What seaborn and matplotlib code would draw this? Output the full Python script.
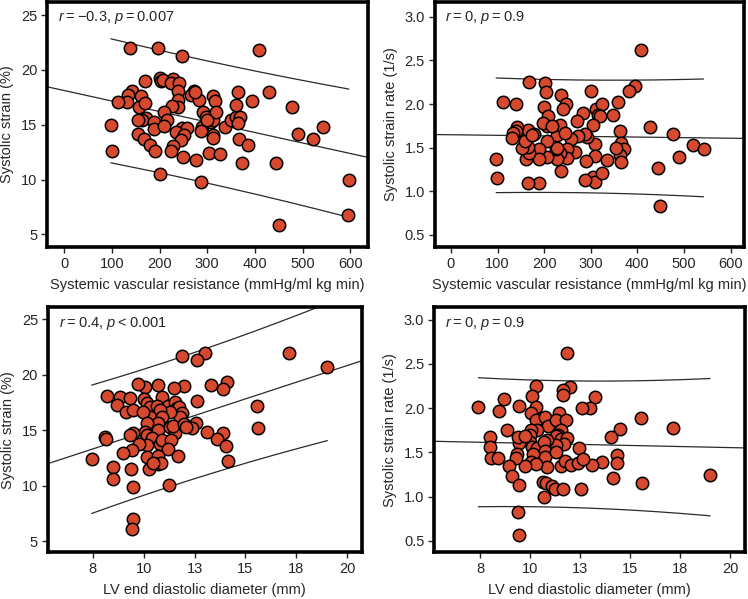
import matplotlib
matplotlib.use("Agg")
import matplotlib.pyplot as plt
import numpy as np
import pandas as pd
import seaborn as sns

# ---- data ----
# top-left: systemic vascular resistance vs systolic strain
svr_a = [139, 197, 247, 409, 200, 202, 207, 228, 225, 241,
         170, 238, 272, 265, 283, 238, 238, 226, 209, 143,
         134, 132, 112, 161, 157, 169, 171, 163, 154, 188,
         189, 216, 210, 154, 167, 179, 190, 98, 100, 200,
         248, 258, 234, 251, 245, 228, 225, 249, 276, 287,
         292, 297, 289, 287, 307, 312, 313, 316, 319, 312,
         312, 304, 326, 337, 349, 360, 369, 365, 360, 365,
         366, 372, 394, 385, 430, 478, 491, 521, 543, 444,
         451, 597, 594, 300, 274]
strain_a = [22.0, 22.0, 21.3, 21.8, 19.3, 19.0, 19.1, 19.2, 18.8, 18.8,
            19.0, 18.1, 18.1, 17.7, 17.3, 17.3, 16.6, 16.7, 16.2, 18.1,
            17.7, 17.1, 17.1, 17.6, 16.6, 17.0, 15.6, 15.4, 15.4, 15.3,
            14.6, 15.4, 14.9, 14.2, 13.7, 13.2, 12.6, 15.0, 12.6, 10.5,
            14.7, 14.7, 14.3, 14.1, 13.6, 13.1, 12.6, 12.1, 11.8, 9.8,
            16.2, 15.7, 14.8, 14.4, 15.3, 15.4, 17.6, 17.2, 16.2, 14.1,
            13.8, 12.4, 12.3, 14.8, 15.4, 15.7, 15.7, 15.2, 16.8, 18.0,
            13.7, 11.5, 17.2, 13.2, 18.0, 16.6, 14.2, 13.7, 14.8, 11.5,
            5.9, 10.0, 6.8, 15.45, 18.0]

# top-right: systemic vascular resistance vs systolic strain rate
svr_b = [407, 395, 383, 167, 201, 205, 300, 237, 247, 241,
         112, 139, 199, 209, 283, 270, 312, 325, 315, 319,
         348, 359, 428, 477, 520, 542, 489, 445, 448, 363,
         366, 371, 363, 366, 355, 305, 310, 310, 305, 310,
         325, 335, 288, 290, 293, 288, 273, 258, 266, 249,
         249, 235, 237, 227, 225, 227, 227, 234, 244, 207,
         197, 217, 207, 207, 190, 189, 190, 165, 162, 168,
         165, 152, 158, 165, 178, 142, 139, 134, 130, 97,
         99, 174]
rate_b = [2.62, 2.21, 2.15, 2.25, 2.24, 2.14, 2.15, 2.10, 2.00, 1.94,
          2.02, 2.00, 1.97, 1.86, 1.90, 1.81, 1.94, 2.00, 1.88, 1.86,
          1.88, 2.02, 1.74, 1.66, 1.53, 1.49, 1.39, 1.27, 0.83, 1.69,
          1.55, 1.48, 1.42, 1.33, 1.50, 1.76, 1.54, 1.40, 1.16, 1.11,
          1.21, 1.36, 1.13, 1.35, 1.62, 1.66, 1.63, 1.60, 1.45, 1.48,
          1.38, 1.44, 1.23, 1.37, 1.48, 1.50, 1.65, 1.76, 1.67, 1.75,
          1.78, 1.75, 1.58, 1.39, 1.48, 1.37, 1.09, 1.09, 1.37, 1.44,
          1.51, 1.50, 1.58, 1.70, 1.66, 1.74, 1.69, 1.67, 1.61, 1.37,
          1.15, 1.64]

# bottom-left: LV end diastolic diameter vs systolic strain
lvedd_c = [17.15, 19.02, 11.87, 13.01, 12.62, 13.29, 14.08, 13.91, 15.57, 15.61,
           13.91, 13.62, 14.05, 14.16, 12.61, 12.58, 12.36, 13.1, 12.0, 11.48,
           10.92, 10.71, 10.07, 9.74, 8.19, 8.84, 9.33, 8.71, 9.14, 9.48,
           10.02, 10.15, 10.31, 10.64, 11.21, 11.54, 11.62, 11.75, 11.87, 11.8,
           11.3, 10.8, 10.31, 9.99, 10.89, 10.72, 10.15, 10.07, 10.15, 10.72,
           11.3, 11.54, 11.46, 12.0, 12.06, 10.39, 10.8, 10.89, 11.34, 11.21,
           10.18, 9.78, 9.41, 9.0, 9.46, 9.33, 8.12, 8.17, 7.45, 8.51,
           8.48, 9.37, 9.47, 9.48, 9.43, 10.15, 10.25, 10.72, 10.72, 10.86,
           11.26, 11.67, 10.45]
strain_c = [21.94, 20.68, 21.7, 21.94, 21.3, 19.08, 19.32, 18.75, 17.19, 15.21,
            14.73, 14.19, 13.59, 12.27, 17.67, 15.63, 15.18, 14.88, 18.99, 18.84,
            18.03, 19.05, 18.93, 19.14, 18.09, 17.97, 17.94, 17.28, 16.68, 16.83,
            17.79, 17.43, 17.13, 17.19, 17.19, 17.58, 16.98, 17.07, 16.53, 16.23,
            16.68, 16.83, 16.17, 16.68, 16.23, 15.63, 15.63, 14.88, 14.58, 15.03,
            15.33, 14.79, 15.39, 15.57, 15.27, 14.28, 13.77, 14.13, 14.13, 13.29,
            13.68, 13.77, 13.23, 12.99, 14.79, 14.61, 14.43, 14.19, 12.39, 11.73,
            10.62, 11.52, 9.87, 6.98, 6.08, 12.63, 11.52, 12.69, 11.94, 12.09,
            10.05, 12.69, 12.09]

# bottom-right: LV end diastolic diameter vs systolic strain rate
lvedd_d = [11.87, 19.0, 17.15, 15.55, 15.6, 14.5, 14.05, 14.33, 14.37, 14.13,
           13.62, 13.1, 13.27, 13.0, 12.58, 12.0, 11.65, 11.67, 10.28, 10.12,
           10.32, 10.03, 10.28, 10.73, 10.9, 11.47, 11.32, 11.78, 11.53, 11.42,
           11.32, 11.57, 11.83, 11.7, 11.28, 10.87, 10.37, 10.03, 9.98, 10.0,
           10.08, 10.37, 10.7, 10.73, 10.75, 10.83, 10.17, 10.03, 10.32, 9.75,
           9.43, 9.38, 9.33, 9.28, 8.83, 8.95, 9.08, 9.43, 9.45, 8.7,
           8.45, 7.42, 7.98, 8.02, 8.05, 8.42, 9.42, 9.43, 10.63, 10.78,
           10.7, 11.08, 11.25, 11.67, 12.55, 11.53, 11.73, 12.03, 12.45, 12.4,
           12.65, 11.28, 9.73]
rate_d = [2.62, 1.24, 1.77, 1.89, 1.15, 1.76, 1.67, 1.47, 1.38, 1.21,
          1.39, 1.36, 2.13, 2.00, 2.00, 2.24, 2.21, 2.15, 2.25, 2.14,
          2.01, 1.94, 1.86, 1.90, 1.80, 1.94, 1.87, 1.86, 1.75, 1.70,
          1.69, 1.65, 1.66, 1.59, 1.58, 1.64, 1.75, 1.75, 1.70, 1.62,
          1.56, 1.55, 1.62, 1.51, 1.45, 1.33, 1.48, 1.39, 1.37, 1.35,
          1.60, 1.67, 1.48, 1.44, 1.75, 1.35, 1.23, 1.13, 2.02, 2.10,
          1.97, 2.01, 1.67, 1.56, 1.44, 1.44, 0.83, 0.56, 1.16, 1.15,
          1.00, 1.12, 1.09, 1.09, 1.08, 1.35, 1.40, 1.36, 1.55, 1.38,
          1.43, 1.50, 1.68]

ts = "\u2009"  # thin space around = and <
stats_text = [f"$r${ts}={ts}\u22120.3, $p${ts}={ts}0.007",
              f"$r${ts}={ts}0, $p${ts}={ts}0.9",
              f"$r${ts}={ts}0.4, $p${ts}<{ts}0.001",
              f"$r${ts}={ts}0, $p${ts}={ts}0.9"]

svr_ticks = [0, 100, 200, 300, 400, 500, 600]
lv_ticks = [7.5, 10, 12.5, 15, 17.5, 20]
lv_ticklabels = ["8", "10", "13", "15", "18", "20"]
strain_ticks = [5, 10, 15, 20, 25]
rate_ticks = [0.5, 1.0, 1.5, 2.0, 2.5, 3.0]

svr_label = "Systemic vascular resistance (mmHg/ml kg min)"
lv_label = "LV end diastolic diameter (mm)"
strain_label = "Systolic strain (%)"
rate_label = "Systolic strain rate (1/s)"

sns.set_style("white")
plt.rcParams["font.family"] = ["Liberation Sans", "DejaVu Sans"]
plt.rcParams["mathtext.fontset"] = "custom"
plt.rcParams["mathtext.rm"] = "Liberation Sans"
plt.rcParams["mathtext.it"] = "Liberation Sans:italic"
plt.rcParams["font.size"] = 10.5

fig = plt.figure(figsize=(7.48, 5.99), dpi=100)

# [left, bottom, width, height] in figure fractions
boxes = [
    [0.0628, 0.5876, 0.4292, 0.409],
    [0.5811, 0.5876, 0.4136, 0.409],
    [0.0638, 0.078, 0.4198, 0.409],
    [0.5802, 0.078, 0.4154, 0.409],
]

panels = [
    (svr_a, strain_a, (-36, 637), (3.85, 26.2), svr_ticks, None, strain_ticks, svr_label, strain_label),
    (svr_b, rate_b, (-35, 629), (0.36, 3.17), svr_ticks, None, rate_ticks, svr_label, rate_label),
    (lvedd_c, strain_c, (5.29, 20.71), (4.0, 26.08), lv_ticks, lv_ticklabels, strain_ticks, lv_label, strain_label),
    (lvedd_d, rate_d, (5.2, 20.73), (0.37, 3.14), lv_ticks, lv_ticklabels, rate_ticks, lv_label, rate_label),
]

for i, (x, y, xlim, ylim, xt, xtl, yt, xlab, ylab) in enumerate(panels):
    ax = fig.add_axes(boxes[i])
    df = pd.DataFrame({"x": x, "y": y})

    # linear fit with 95% prediction band
    xa = np.array(x, dtype=float)
    ya = np.array(y, dtype=float)
    n = len(xa)
    slope, icpt = np.polyfit(xa, ya, 1)
    resid = ya - (icpt + slope * xa)
    s = np.sqrt(np.sum(resid ** 2) / (n - 2))
    sxx = np.sum((xa - xa.mean()) ** 2)
    xf = np.linspace(xlim[0], xlim[1], 200)
    ax.plot(xf, icpt + slope * xf, color="#2a2a2a", lw=0.9, zorder=1)
    xb = np.linspace(xa.min(), xa.max(), 200)
    half = 1.99 * s * np.sqrt(1 + 1 / n + (xb - xa.mean()) ** 2 / sxx)
    ax.plot(xb, icpt + slope * xb + half, color="#2a2a2a", lw=0.9, zorder=1)
    ax.plot(xb, icpt + slope * xb - half, color="#2a2a2a", lw=0.9, zorder=1)

    sns.scatterplot(data=df, x="x", y="y", ax=ax, s=80, color="#d6492f",
                    edgecolor="black", linewidth=1.1, zorder=3, legend=False)

    ax.set_xlim(*xlim)
    ax.set_ylim(*ylim)
    ax.set_xticks(xt)
    if xtl is not None:
        ax.set_xticklabels(xtl)
    ax.set_yticks(yt)
    if ylim[1] < 5:
        ax.set_yticklabels([f"{v:.1f}" for v in yt])
    ax.set_xlabel(xlab, labelpad=5)
    ax.set_ylabel(ylab, labelpad=5)
    ax.tick_params(direction="out", length=4, width=1, pad=3, left=True, bottom=True)
    for sp in ax.spines.values():
        sp.set_linewidth(2.6)
        sp.set_color("black")
    ax.text(0.035, 0.935, stats_text[i], transform=ax.transAxes, va="center", ha="left")

fig.savefig("out.png", dpi=100)
